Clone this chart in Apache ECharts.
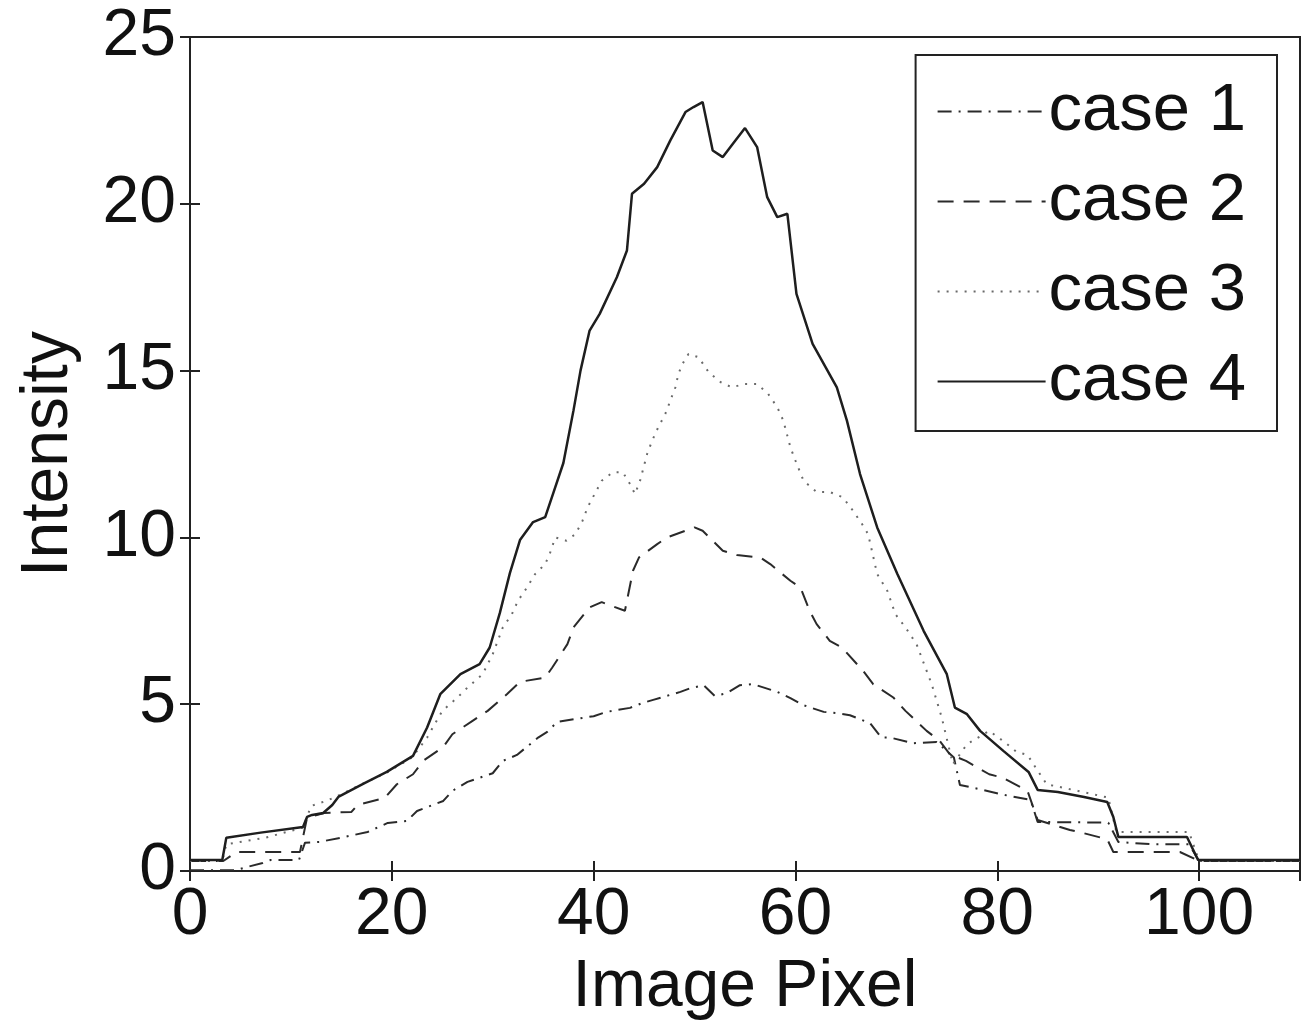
<!DOCTYPE html>
<html>
<head>
<meta charset="utf-8">
<title>Intensity profile</title>
<script src="https://cdn.jsdelivr.net/npm/echarts@6/dist/echarts.min.js"></script>
<style>
  html, body { margin: 0; padding: 0; background: #fff; }
</style>
</head>
<body>
<div id="main" style="width:1315px; height:1034px"></div>
<script>
// names + tick labels
var caseNames = ["case 1", "case 2", "case 3", "case 4"];
var xTicks = [0, 20, 40, 60, 80, 100];
var yTicks = [0, 5, 10, 15, 20, 25];

// case 1 (dash-dot)
var case1Px = [0, 4.5, 5.4, 7.2, 8, 10.8, 11.4, 12.8, 15, 17.6, 19.6, 21.5, 22.5, 25.1, 26, 27.5, 30, 31, 32.4, 34.5, 35.4, 36.4, 38.7, 40, 41.3, 43.6, 44.8, 45.9, 48.6, 49.6, 50.9, 52, 53.2, 54.5, 55.8, 58.2, 59.5, 60.7, 62.8, 64.2, 65.4, 67.4, 68.5, 69.4, 71.7, 74, 75.7, 76.3, 78.6, 80.7, 83.3, 84, 91, 92, 95.4, 99, 100, 110];
var case1Val = [0.02, 0.02, 0.1, 0.24, 0.33, 0.33, 0.85, 0.87, 1.0, 1.17, 1.44, 1.5, 1.8, 2.1, 2.4, 2.67, 2.93, 3.3, 3.48, 4.0, 4.17, 4.47, 4.58, 4.64, 4.77, 4.89, 5.03, 5.13, 5.37, 5.48, 5.57, 5.25, 5.33, 5.57, 5.6, 5.37, 5.18, 4.98, 4.77, 4.73, 4.67, 4.43, 4.0, 4.0, 3.83, 3.87, 3.4, 2.58, 2.43, 2.28, 2.13, 1.47, 1.45, 0.87, 0.8, 0.8, 0.3, 0.3];

// case 2 (dashed)
var case2Px = [0, 3.3, 4.6, 10.9, 11.6, 13.3, 16, 16.6, 19.3, 20.5, 22.1, 23.1, 25.1, 26, 28, 29.5, 31.4, 32.7, 35.2, 35.9, 37.4, 38, 39.6, 40.8, 43.1, 43.9, 44.5, 46.3, 47.3, 50, 50.8, 52.8, 54.2, 56.5, 57.5, 59.5, 60.5, 61.4, 62.1, 63.4, 64.6, 66.7, 67.7, 69.7, 70.9, 73, 74.3, 75.3, 76.9, 79.2, 80.5, 83, 84, 87.2, 88.5, 90.9, 91.5, 98.1, 100, 110];
var case2Val = [0.3, 0.3, 0.57, 0.57, 1.6, 1.74, 1.77, 1.98, 2.19, 2.6, 2.9, 3.3, 3.72, 4.1, 4.5, 4.8, 5.3, 5.67, 5.8, 6.1, 6.8, 7.3, 7.9, 8.06, 7.8, 9.0, 9.4, 9.8, 10.0, 10.3, 10.2, 9.6, 9.47, 9.4, 9.2, 8.7, 8.5, 7.8, 7.4, 6.9, 6.7, 6.0, 5.6, 5.2, 4.8, 4.2, 3.9, 3.5, 3.3, 2.9, 2.8, 2.4, 1.53, 1.23, 1.14, 0.95, 0.57, 0.57, 0.3, 0.3];

// case 3 (dotted)
var case3Px = [0, 3.2, 3.6, 7.5, 11.2, 12, 13.5, 15, 17, 19.5, 22, 23.5, 25, 26.5, 27.5, 29, 30, 31, 31.9, 32.5, 33.4, 34.2, 35.2, 35.7, 36.2, 37.3, 38.2, 38.9, 39.4, 40.1, 40.8, 41.9, 42.9, 43.6, 44.1, 44.6, 45.3, 45.8, 46.4, 47.1, 47.6, 48.1, 48.4, 48.8, 49.4, 50.4, 51.4, 52.6, 53.7, 55, 56.2, 57.3, 58.2, 58.8, 59.5, 60, 60.8, 62.1, 63.4, 64.7, 65.7, 66.6, 67.2, 67.8, 68.1, 69.1, 69.9, 70.9, 72, 73.5, 74.5, 75.6, 77, 79.2, 80.7, 81.9, 83, 83.8, 84.9, 88, 91, 91.8, 99, 100, 110];
var case3Val = [0.3, 0.3, 0.8, 1.0, 1.3, 1.95, 2.1, 2.3, 2.6, 2.95, 3.4, 4.0, 4.8, 5.2, 5.5, 5.9, 6.5, 7.3, 7.7, 8.1, 8.5, 8.9, 9.2, 9.55, 10.0, 9.9, 10.1, 10.5, 10.9, 11.3, 11.7, 11.95, 11.95, 11.6, 11.3, 11.7, 12.5, 12.9, 13.3, 13.7, 14.1, 14.5, 14.9, 15.2, 15.5, 15.4, 14.95, 14.65, 14.5, 14.6, 14.6, 14.3, 13.9, 13.5, 12.7, 12.3, 11.7, 11.36, 11.36, 11.2, 10.8, 10.4, 10.1, 9.3, 8.9, 8.4, 7.7, 7.3, 6.8, 5.6, 4.6, 3.2, 3.8, 4.2, 3.87, 3.57, 3.48, 3.1, 2.6, 2.4, 2.2, 1.17, 1.17, 0.3, 0.3];

// case 4 (solid)
var case4Px = [0, 3.2, 3.6, 7, 11.2, 11.6, 12.1, 13.2, 14.1, 14.7, 17.2, 19.5, 22.1, 23.5, 24.8, 26.8, 28.7, 29.7, 30.7, 31.7, 32.7, 34, 35.2, 36, 37, 38, 38.7, 39.6, 40.6, 42.3, 43.3, 43.8, 45, 46.3, 47.6, 49.1, 49.9, 50.8, 51.8, 52.8, 53.8, 55, 56.2, 57.2, 58.2, 59.2, 60.1, 61.7, 64.1, 65.1, 66.4, 68.1, 70.1, 72.7, 75, 75.8, 77, 78.3, 80.6, 83.1, 84, 86, 88.6, 90.9, 91.5, 92, 98.8, 99.9, 110];
var case4Val = [0.33, 0.33, 1.0, 1.15, 1.32, 1.62, 1.68, 1.74, 1.98, 2.22, 2.62, 2.97, 3.45, 4.3, 5.3, 5.9, 6.2, 6.7, 7.73, 8.93, 9.92, 10.46, 10.61, 11.33, 12.23, 13.8, 15.0, 16.2, 16.7, 17.8, 18.6, 20.3, 20.6, 21.1, 21.9, 22.75, 22.9, 23.05, 21.6, 21.4, 21.8, 22.27, 21.7, 20.2, 19.6, 19.7, 17.3, 15.8, 14.5, 13.5, 11.9, 10.3, 8.9, 7.2, 5.9, 4.9, 4.7, 4.2, 3.6, 2.97, 2.43, 2.37, 2.22, 2.07, 1.62, 1.02, 1.02, 0.33, 0.33];

function pairs(xs, ys) {
  var out = [];
  for (var i = 0; i < xs.length; i++) out.push([xs[i], ys[i]]);
  return out;
}

var font = "'Liberation Sans', Arial, sans-serif";
var chart = echarts.init(document.getElementById("main"), null, { renderer: "canvas" });

var styles = [
  { color: "#2a2a2a", width: 2, type: [14, 7, 2, 7] },
  { color: "#2a2a2a", width: 2, type: [16, 10] },
  { color: "#6a6a6a", width: 2, type: [2, 7] },
  { color: "#1e1e1e", width: 2.5, type: "solid" }
];
var allPx = [case1Px, case2Px, case3Px, case4Px];
var allVal = [case1Val, case2Val, case3Val, case4Val];

var series = caseNames.map(function (name, i) {
  return {
    name: name,
    type: "line",
    symbol: "none",
    animation: false,
    color: styles[i].color,
    lineStyle: styles[i],
    data: pairs(allPx[i], allVal[i])
  };
});

var option = {
  backgroundColor: "#fff",
  animation: false,
  textStyle: { fontFamily: font },
  grid: {
    left: 190, right: 15, top: 37, bottom: 163,
    show: true, borderColor: "#222", borderWidth: 2, backgroundColor: "#fff"
  },
  legend: {
    orient: "vertical",
    right: 38, top: 55,
    padding: [23, 31, 16, 21],
    borderColor: "#222", borderWidth: 2,
    backgroundColor: "#fff",
    itemWidth: 108, itemHeight: 20, itemGap: 23,
    itemStyle: { opacity: 0 },
    textStyle: { fontFamily: font, fontSize: 67, color: "#111", lineHeight: 66, padding: [0, 0, 0, -2] },
    data: caseNames
  },
  xAxis: [{
    type: "value", min: 0, max: 110, interval: 20,
    name: "Image Pixel", nameLocation: "middle", nameGap: 84,
    nameTextStyle: { fontFamily: font, fontSize: 66, color: "#111" },
    axisLine: { show: true, lineStyle: { color: "#222", width: 2 } },
    axisTick: { show: true, inside: true, length: 10, lineStyle: { color: "#222", width: 2 } },
    axisLabel: {
      fontFamily: font, fontSize: 66, color: "#111", margin: 12,
      formatter: function (v) { return xTicks.indexOf(v) >= 0 ? String(v) : ""; }
    },
    splitLine: { show: false }
  }, {
    type: "value", min: 0, max: 110, interval: 20, position: "top",
    axisLine: { show: false },
    axisTick: { show: true, inside: true, length: 10, lineStyle: { color: "#222", width: 2 } },
    axisLabel: { show: false }, splitLine: { show: false }
  }],
  yAxis: [{
    type: "value", min: 0, max: 25, interval: 5,
    name: "Intensity", nameLocation: "middle", nameGap: 108, nameRotate: 90,
    nameTextStyle: { fontFamily: font, fontSize: 66, color: "#111" },
    axisLine: { show: true, lineStyle: { color: "#222", width: 2 } },
    axisTick: { show: true, inside: true, length: 10, lineStyle: { color: "#222", width: 2 } },
    axisLabel: {
      fontFamily: font, fontSize: 66, color: "#111", margin: 14,
      formatter: function (v) { return yTicks.indexOf(v) >= 0 ? String(v) : ""; }
    },
    splitLine: { show: false }
  }, {
    type: "value", min: 0, max: 25, interval: 5, position: "right",
    axisLine: { show: false },
    axisTick: { show: true, inside: true, length: 10, lineStyle: { color: "#222", width: 2 } },
    axisLabel: { show: false }, splitLine: { show: false }
  }],
  series: series
};

chart.setOption(option);
</script>
</body>
</html>
